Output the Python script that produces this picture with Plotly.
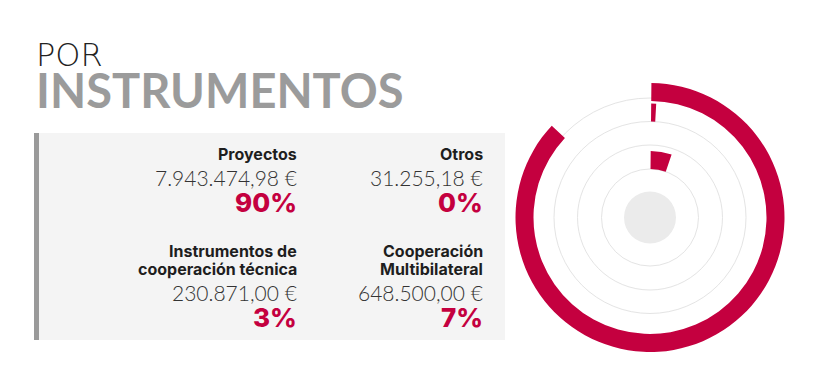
import plotly.graph_objects as go

# ---------------- data ----------------
categories = ["Proyectos", "Otros", "Instrumentos de cooperación técnica", "Cooperación Multibilateral"]
label_lines = [["Proyectos"], ["Otros"], ["Instrumentos de", "cooperación técnica"], ["Cooperación", "Multibilateral"]]
amount_labels = ["7.943.474,98 €", "31.255,18 €", "230.871,00 €", "648.500,00 €"]
pct_labels = ["90%", "0%", "3%", "7%"]
# share of the full circle covered by each arc (%)
arc_share = [86.8, 0.7, 0.0, 5.1]

title_top = "POR"
title_main = "INSTRUMENTOS"

# ---------------- style ----------------
W, H = 829, 387
OFF = 8  # page body margin of the browser
CRIMSON = "#c4003f"
TRACK = "#e4e4e4"
DISC = "#ebebeb"
ring_base = [116.5, 96, 72.5, 48.5]     # px from centre (1 radial unit = 1 px)
track_r = [48.5, 72.5, 96, 119.5]
bar_thick = 18
start_deg = 0.6
cx, cy, R = 650, 217.5, 140

def px(x):
    return (x - OFF) / W

def py(y):
    return 1 - (y - OFF) / H

fig = go.Figure()

# central disc
fig.add_trace(go.Barpolar(r=[26], base=[0], theta=[180], width=[360],
                          marker=dict(color=DISC, line=dict(width=0)),
                          hoverinfo="skip", showlegend=False))

for i, cat in enumerate(categories):
    deg = arc_share[i] * 3.6
    if deg <= 0:
        continue
    fig.add_trace(go.Barpolar(r=[bar_thick], base=[ring_base[i]],
                              theta=[start_deg + deg / 2], width=[deg],
                              marker=dict(color=CRIMSON, line=dict(width=0)),
                              name=cat, showlegend=False))

fig.update_layout(
    width=W, height=H, margin=dict(l=0, r=0, t=0, b=0),
    paper_bgcolor="white", plot_bgcolor="white",
    polar=dict(
        domain=dict(x=[px(cx - R), px(cx + R)], y=[py(cy + R), py(cy - R)]),
        bgcolor="rgba(0,0,0,0)",
        radialaxis=dict(range=[0, R], tickvals=track_r, showticklabels=False,
                        ticks="", showline=False, showgrid=True,
                        gridcolor=TRACK, gridwidth=1, layer="below traces"),
        angularaxis=dict(visible=False, rotation=90, direction="clockwise"),
        bargap=0,
    ),
)

shapes = [
    dict(type="rect", xref="paper", yref="paper", x0=px(34), x1=px(505), y0=py(340), y1=py(133),
         fillcolor="#f4f4f4", line=dict(width=0), layer="below"),
    dict(type="rect", xref="paper", yref="paper", x0=px(34), x1=px(39), y0=py(340), y1=py(133),
         fillcolor="#9a9a9a", line=dict(width=0), layer="below"),
]
fig.update_layout(shapes=shapes)

ann = []
title_text = (title_top + "<br><span style='font-family:Lato;font-size:47px;font-weight:700;"
              "color:#9b9b9b'>" + title_main + "</span>")
ann.append(dict(text=title_text, x=px(35), y=py(35), xanchor="left", yanchor="top", align="left",
                font=dict(family="DejaVu Sans", size=32, color="#222222", weight=200)))

col_x = [298, 483.5, 298, 483.5]
row_pct_y = [202.5, 202.5, 317.5, 317.5]
for i in range(len(categories)):
    xr = px(col_x[i])
    yp = row_pct_y[i]
    lines = label_lines[i]
    for j, line in enumerate(reversed(lines)):
        ann.append(dict(text=line, x=xr, y=py(yp - 48.5 - 18 * j), xanchor="right", yanchor="middle",
                        font=dict(family="Inter", size=16, color="#1e1e1e", weight=700)))
    ann.append(dict(text=amount_labels[i], x=xr, y=py(yp - 25), xanchor="right", yanchor="middle",
                    font=dict(family="Lato", size=21, color="#333333", weight=300)))
    ann.append(dict(text=pct_labels[i], x=xr, y=py(yp), xanchor="right", yanchor="middle",
                    font=dict(family="Inter", size=26, color=CRIMSON, weight=800)))

for a in ann:
    a.update(xref="paper", yref="paper", showarrow=False, borderpad=0)
fig.update_layout(annotations=ann)

fig.write_html("out.html")
